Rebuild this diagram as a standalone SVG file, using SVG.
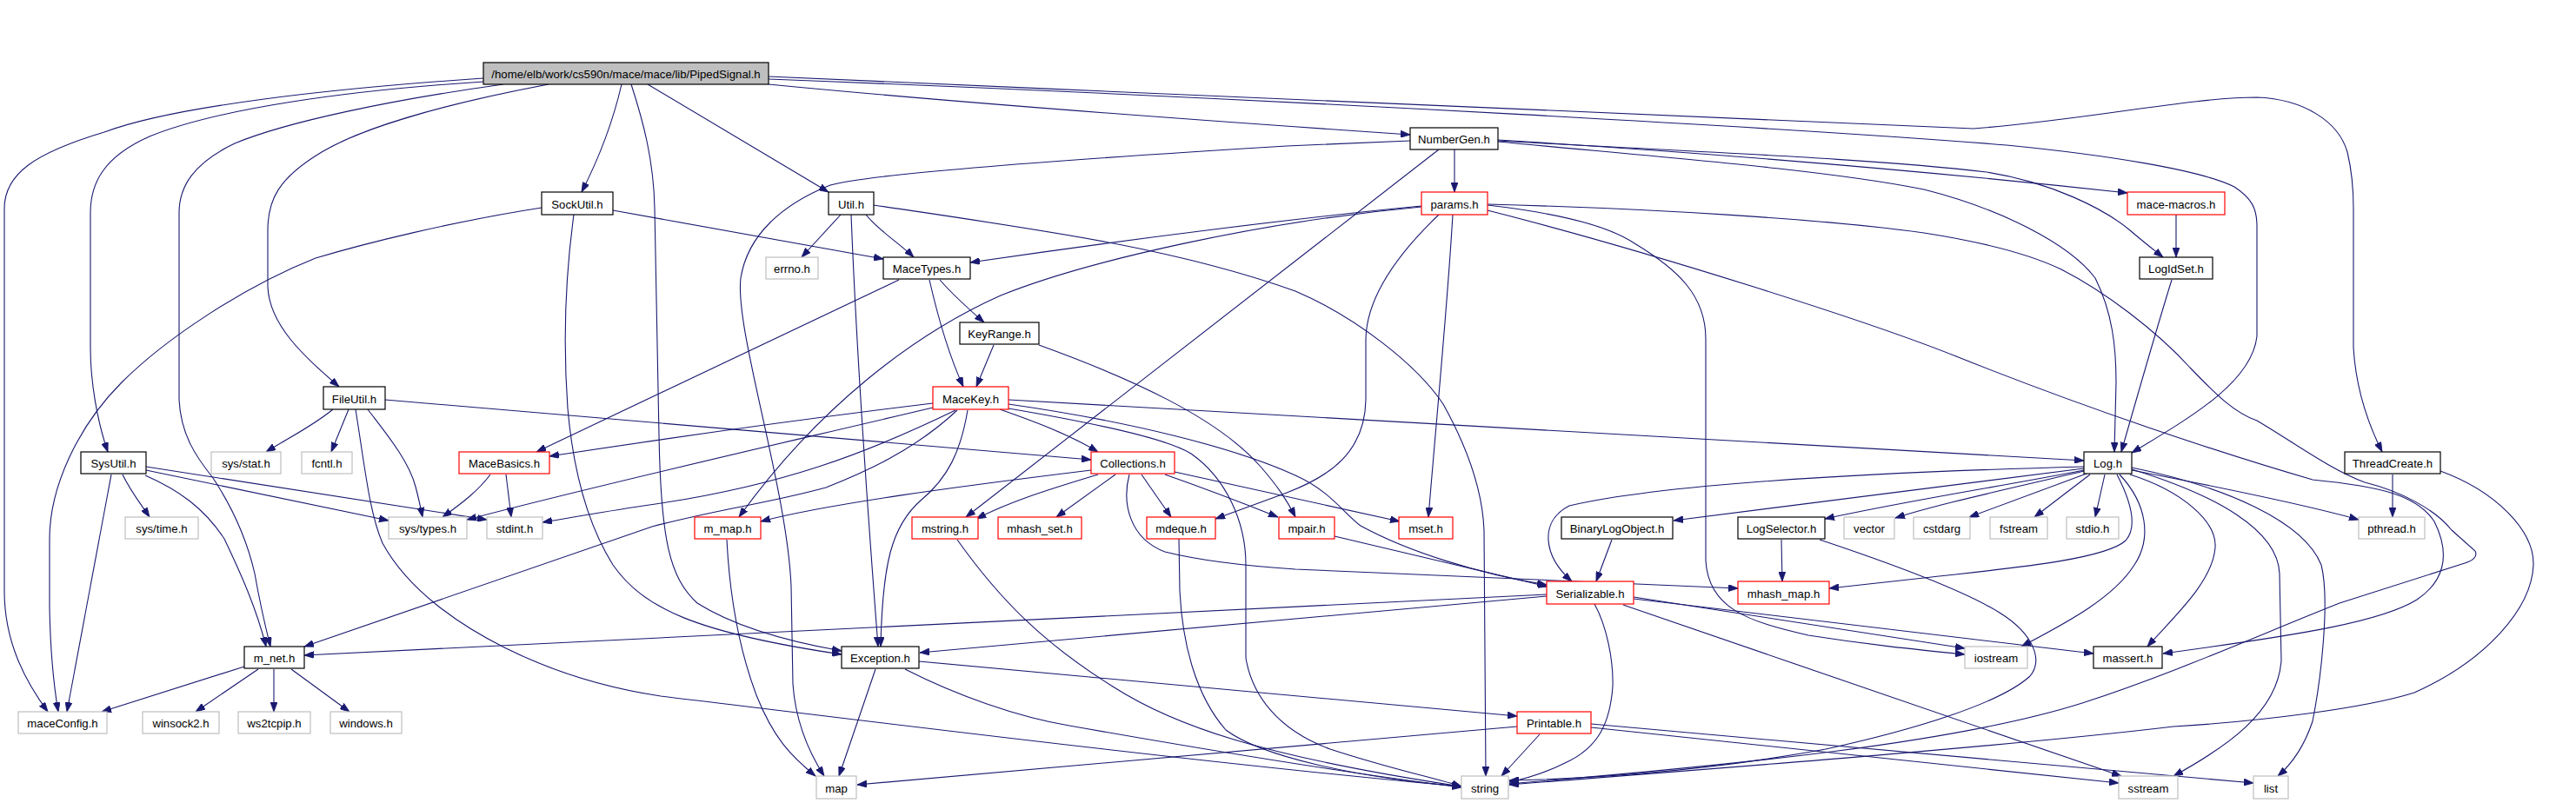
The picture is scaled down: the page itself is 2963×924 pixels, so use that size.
<svg xmlns="http://www.w3.org/2000/svg" width="2963" height="924" viewBox="0 0 2963 924">
<defs>
<marker id="a" markerWidth="11" markerHeight="8" refX="11" refY="4" orient="auto" markerUnits="userSpaceOnUse"><path d="M0,0 L11,4 L0,8 z" fill="#191970" stroke="#191970" stroke-width="0.8"/></marker>
</defs>
<style>
rect{stroke-width:1.2}
.k rect{fill:#fff;stroke:#000}
.r rect{fill:#fff;stroke:#ff0000}
.g rect{fill:#fff;stroke:#bfbfbf}
.m rect{fill:#bfbfbf;stroke:#000}
text{font-family:"Liberation Sans",Arial,sans-serif;font-size:13.2px;text-anchor:middle;fill:#000}
#edges path{fill:none;stroke:#191970;stroke-width:1.1;marker-end:url(#a)}
</style>
<rect x="0" y="0" width="2963" height="924" fill="#fff"/>
<g id="edges">
<path d="M556,90 C380,102 200,122 120,152 C40,176 5,200 5,240 L5,680 C5,740 30,785 55,819"/>
<path d="M556,94 C400,104 250,125 172,157 C120,180 104,210 104,245 L104,400 C104,440 112,485 124,520"/>
<path d="M579,97 C450,115 330,140 270,165 C222,188 206,215 206,245 L206,460 C208,500 225,525 245,550 C268,585 285,625 293,660 C300,700 305,720 311,744"/>
<path d="M631,97 C520,118 420,145 370,175 C320,205 308,230 308,265 L308,330 C310,375 350,410 390,445"/>
<path d="M715,97 C705,140 690,180 669,221"/>
<path d="M726,97 C740,140 752,185 753,240 L758,500 C760,620 770,665 802,694 C840,718 900,737 968,749"/>
<path d="M745,97 L953,221"/>
<path d="M884,97 C1100,118 1400,140 1622,155"/>
<path d="M884,88 C1400,110 2000,140 2270,148 C2400,138 2520,112 2596,112 C2650,114 2690,140 2700,175 C2706,200 2707,220 2707,240 L2707,400 C2710,450 2725,490 2740,520"/>
<path d="M884,91 C1500,115 2100,150 2308,167 C2420,178 2530,195 2570,215 C2590,228 2596,240 2596,260 L2596,387 C2590,440 2520,480 2452,521"/>
<path d="M1673,172 L1673,221"/>
<path d="M1622,162 L1480,168 C1200,185 1000,200 955,213 C900,235 860,270 852,320 C845,380 905,560 910,674 L912,787 C915,830 930,865 948,893"/>
<path d="M1655,172 L1111,595"/>
<path d="M1723,161 C1950,175 2200,195 2447,222"/>
<path d="M1723,162 C1950,175 2150,182 2285,198 C2360,210 2420,240 2450,265 C2465,278 2478,288 2488,296"/>
<path d="M1723,163 C1900,180 2100,195 2213,218 C2300,240 2380,280 2410,320 C2430,360 2434,400 2434,440 L2432,520"/>
<path d="M1635,237 C1500,250 1300,275 1116,302"/>
<path d="M1635,238 C1450,255 1250,300 1151,340 C1050,385 940,470 850,595"/>
<path d="M1655,247 C1610,290 1572,340 1571,390 L1571,460 C1570,520 1530,548 1480,567 C1450,578 1425,587 1398,597"/>
<path d="M1671,247 C1665,350 1655,450 1643,595"/>
<path d="M1711,236 C1790,245 1850,260 1880,280 C1930,310 1962,340 1962,390 L1962,645 C1965,700 2010,715 2080,731 C2150,742 2200,747 2260,753"/>
<path d="M1711,242 C1900,290 2150,370 2250,410 C2400,470 2550,520 2660,552 C2740,560 2780,570 2800,600 C2820,640 2810,670 2780,690 C2740,715 2650,730 2488,752"/>
<path d="M1711,235 C1900,240 2100,252 2213,268 C2290,280 2340,295 2371,310 C2420,335 2480,380 2519,423 C2550,455 2570,475 2596,484 C2640,510 2680,540 2720,555 C2760,565 2800,585 2820,610 L2847,634 C2850,640 2845,645 2835,648 L2691,694 C2600,730 2500,775 2395,809 C2250,855 2000,880 1736,902"/>
<path d="M967,247 L922,296"/>
<path d="M996,247 C1010,265 1035,280 1051,296"/>
<path d="M979,247 C985,400 995,550 1010,744"/>
<path d="M1005,236 C1200,265 1350,285 1490,335 C1560,365 1630,420 1660,465 C1685,510 1705,560 1707,610 L1709,893"/>
<path d="M705,242 L1016,298"/>
<path d="M623,239 C520,255 420,280 363,297 C280,330 190,390 140,440 C90,490 57,560 57,620 L57,700 C58,750 62,790 67,819"/>
<path d="M660,247 C650,320 648,400 653,470 C660,550 680,610 705,650 C740,700 800,728 968,753"/>
<path d="M1034,322 L617,520"/>
<path d="M1081,322 C1095,338 1110,352 1132,371"/>
<path d="M1069,322 C1080,370 1092,410 1108,445"/>
<path d="M1143,397 L1123,445"/>
<path d="M1195,397 C1300,435 1400,480 1450,537 C1470,560 1480,575 1490,595"/>
<path d="M383,471 C360,490 330,505 306,520"/>
<path d="M401,471 L381,520"/>
<path d="M423,471 C445,500 470,530 478,560 C482,575 484,585 486,595"/>
<path d="M443,460 L1255,529"/>
<path d="M409,471 C420,540 425,590 440,625 C470,680 530,720 580,745 C640,775 700,792 760,801 C1000,830 1400,880 1681,905"/>
<path d="M141,546 C150,565 162,580 172,595"/>
<path d="M168,541 L447,599"/>
<path d="M168,537 L560,598"/>
<path d="M167,547 C206,564 235,585 258,620 C277,660 295,700 306,744"/>
<path d="M128,546 L77,819"/>
<path d="M564,546 C550,565 530,580 509,595"/>
<path d="M582,546 L588,595"/>
<path d="M1073,464 C900,485 750,507 632,525"/>
<path d="M1073,469 C900,510 700,555 537,598"/>
<path d="M1099,472 C1000,520 900,560 740,582 C700,588 660,595 624,601"/>
<path d="M1101,472 C1050,520 990,545 950,561 C880,580 830,585 750,606 L350,744"/>
<path d="M1113,472 C1105,520 1090,550 1060,575 C1025,605 1015,650 1013,744"/>
<path d="M1150,471 C1190,485 1230,500 1263,520"/>
<path d="M1160,460 L2397,530"/>
<path d="M1160,465 C1300,485 1420,515 1490,547 C1530,565 1545,590 1565,605 C1620,635 1700,660 1779,673"/>
<path d="M1160,470 C1260,487 1343,505 1370,522 C1410,550 1433,600 1433,650 L1433,757 C1440,800 1470,840 1530,862 C1600,885 1650,895 1681,905"/>
<path d="M1255,541 C1100,560 950,580 875,600"/>
<path d="M1263,546 C1200,565 1160,578 1123,597"/>
<path d="M1283,546 L1215,595"/>
<path d="M1313,546 L1347,595"/>
<path d="M1340,546 C1380,560 1420,575 1470,595"/>
<path d="M1351,543 L1610,600"/>
<path d="M1299,546 C1290,580 1300,620 1340,635 C1380,645 1430,651 1490,655 L1999,677"/>
<path d="M836,621 C840,700 855,760 870,800 C890,850 910,870 938,893"/>
<path d="M1101,621 C1150,690 1200,740 1280,790 C1350,835 1450,870 1681,905"/>
<path d="M1356,620 L1357,680 C1360,740 1375,800 1410,840 C1450,870 1560,895 1681,905"/>
<path d="M1535,617 L1780,675"/>
<path d="M2397,537 C2100,545 1900,560 1805,582 C1770,600 1775,640 1808,669"/>
<path d="M2397,539 L1925,599"/>
<path d="M2397,541 C2300,560 2200,575 2099,597"/>
<path d="M2397,542 C2300,565 2230,580 2180,596"/>
<path d="M2400,545 L2265,595"/>
<path d="M2404,546 L2340,595"/>
<path d="M2421,546 L2410,595"/>
<path d="M2435,546 C2450,575 2460,605 2445,622 C2420,645 2300,655 2213,665 L2104,677"/>
<path d="M2438,546 C2470,580 2475,620 2455,650 C2430,690 2370,720 2325,744"/>
<path d="M2450,546 C2510,565 2550,600 2548,630 C2545,670 2500,710 2470,744"/>
<path d="M2452,540 C2550,570 2620,610 2622,660 L2624,760 C2620,820 2560,860 2500,893"/>
<path d="M2452,538 C2560,560 2650,600 2670,650 C2680,690 2670,780 2660,830 C2650,860 2635,880 2620,893"/>
<path d="M2452,541 C2550,560 2650,580 2713,598"/>
<path d="M2752,546 L2752,595"/>
<path d="M2807,542 C2870,565 2915,610 2914,650 C2912,700 2860,760 2777,797 C2720,815 2600,830 2500,836 C2300,860 1900,890 1736,903"/>
<path d="M2498,322 C2480,380 2460,450 2440,520"/>
<path d="M2503,247 L2503,296"/>
<path d="M2049,621 L2050,669"/>
<path d="M2093,621 C2180,650 2260,680 2300,705 C2340,730 2350,760 2335,778 C2300,810 2200,840 2100,862 C1950,890 1800,897 1736,898"/>
<path d="M1854,621 L1836,669"/>
<path d="M1779,684 L350,754"/>
<path d="M1779,686 L1058,751"/>
<path d="M1834,695 C1848,720 1856,760 1855,790 C1852,830 1840,860 1800,878 C1780,888 1760,895 1736,900"/>
<path d="M1879,687 L2260,746"/>
<path d="M1879,689 L2408,752"/>
<path d="M1867,696 L2440,893"/>
<path d="M1745,836 L986,903"/>
<path d="M1771,845 L1727,893"/>
<path d="M1830,833 L2592,901"/>
<path d="M1830,837 C1900,845 2100,865 2437,901"/>
<path d="M1007,770 L965,893"/>
<path d="M1057,761 L1745,824"/>
<path d="M1041,770 C1100,800 1170,825 1230,835 C1400,865 1550,890 1681,906"/>
<path d="M281,767 L117,819"/>
<path d="M297,770 L225,819"/>
<path d="M315,770 L315,819"/>
<path d="M335,770 L402,819"/>
</g>
<g id="n_main" class="m"><rect x="556" y="72" width="328" height="25"/><text x="720" y="90">/home/elb/work/cs590n/mace/mace/lib/PipedSignal.h</text></g>
<g id="n_NumberGen" class="k"><rect x="1622" y="147" width="101" height="25"/><text x="1672.5" y="165">NumberGen.h</text></g>
<g id="n_SockUtil" class="k"><rect x="623" y="221" width="82" height="26"/><text x="664" y="239.5">SockUtil.h</text></g>
<g id="n_Util" class="k"><rect x="953" y="221" width="52" height="26"/><text x="979" y="239.5">Util.h</text></g>
<g id="n_params" class="r"><rect x="1635" y="221" width="76" height="26"/><text x="1673" y="239.5">params.h</text></g>
<g id="n_macemacros" class="r"><rect x="2447" y="221" width="112" height="26"/><text x="2503" y="239.5">mace-macros.h</text></g>
<g id="n_errno" class="g"><rect x="881" y="296" width="60" height="25"/><text x="911" y="314">errno.h</text></g>
<g id="n_MaceTypes" class="k"><rect x="1016" y="296" width="100" height="25"/><text x="1066" y="314">MaceTypes.h</text></g>
<g id="n_LogIdSet" class="k"><rect x="2461" y="296" width="84" height="25"/><text x="2503" y="314">LogIdSet.h</text></g>
<g id="n_KeyRange" class="k"><rect x="1104" y="371" width="91" height="25"/><text x="1149.5" y="389">KeyRange.h</text></g>
<g id="n_FileUtil" class="k"><rect x="372" y="445" width="71" height="26"/><text x="407.5" y="463.5">FileUtil.h</text></g>
<g id="n_MaceKey" class="r"><rect x="1073" y="445" width="87" height="26"/><text x="1116.5" y="463.5">MaceKey.h</text></g>
<g id="n_SysUtil" class="k"><rect x="93" y="520" width="75" height="25"/><text x="130.5" y="538">SysUtil.h</text></g>
<g id="n_sysstat" class="g"><rect x="243" y="520" width="80" height="25"/><text x="283" y="538">sys/stat.h</text></g>
<g id="n_fcntl" class="g"><rect x="347" y="520" width="58" height="25"/><text x="376" y="538">fcntl.h</text></g>
<g id="n_MaceBasics" class="r"><rect x="528" y="520" width="104" height="25"/><text x="580" y="538">MaceBasics.h</text></g>
<g id="n_Collections" class="r"><rect x="1255" y="520" width="96" height="25"/><text x="1303" y="538">Collections.h</text></g>
<g id="n_Log" class="k"><rect x="2397" y="520" width="55" height="25"/><text x="2424.5" y="538">Log.h</text></g>
<g id="n_ThreadCreate" class="k"><rect x="2697" y="520" width="110" height="25"/><text x="2752" y="538">ThreadCreate.h</text></g>
<g id="n_systime" class="g"><rect x="144" y="595" width="84" height="25"/><text x="186" y="613">sys/time.h</text></g>
<g id="n_systypes" class="g"><rect x="447" y="595" width="90" height="25"/><text x="492" y="613">sys/types.h</text></g>
<g id="n_stdint" class="g"><rect x="560" y="595" width="64" height="25"/><text x="592" y="613">stdint.h</text></g>
<g id="n_m_map" class="r"><rect x="799" y="595" width="76" height="25"/><text x="837" y="613">m_map.h</text></g>
<g id="n_mstring" class="r"><rect x="1049" y="595" width="76" height="25"/><text x="1087" y="613">mstring.h</text></g>
<g id="n_mhash_set" class="r"><rect x="1148" y="595" width="96" height="25"/><text x="1196" y="613">mhash_set.h</text></g>
<g id="n_mdeque" class="r"><rect x="1319" y="595" width="79" height="25"/><text x="1358.5" y="613">mdeque.h</text></g>
<g id="n_mpair" class="r"><rect x="1471" y="595" width="64" height="25"/><text x="1503" y="613">mpair.h</text></g>
<g id="n_mset" class="r"><rect x="1609" y="595" width="62" height="25"/><text x="1640" y="613">mset.h</text></g>
<g id="n_BinaryLogObject" class="k"><rect x="1796" y="595" width="128" height="25"/><text x="1860" y="613">BinaryLogObject.h</text></g>
<g id="n_LogSelector" class="k"><rect x="1999" y="595" width="100" height="25"/><text x="2049" y="613">LogSelector.h</text></g>
<g id="n_vector" class="g"><rect x="2121" y="595" width="58" height="25"/><text x="2150" y="613">vector</text></g>
<g id="n_cstdarg" class="g"><rect x="2201" y="595" width="65" height="25"/><text x="2233.5" y="613">cstdarg</text></g>
<g id="n_fstream" class="g"><rect x="2289" y="595" width="66" height="25"/><text x="2322" y="613">fstream</text></g>
<g id="n_stdio" class="g"><rect x="2377" y="595" width="60" height="25"/><text x="2407" y="613">stdio.h</text></g>
<g id="n_pthread" class="g"><rect x="2713" y="595" width="76" height="25"/><text x="2751" y="613">pthread.h</text></g>
<g id="n_Serializable" class="r"><rect x="1779" y="669" width="100" height="26"/><text x="1829" y="687.5">Serializable.h</text></g>
<g id="n_mhash_map" class="r"><rect x="1999" y="669" width="105" height="26"/><text x="2051.5" y="687.5">mhash_map.h</text></g>
<g id="n_m_net" class="k"><rect x="281" y="744" width="69" height="25"/><text x="315.5" y="762">m_net.h</text></g>
<g id="n_Exception" class="k"><rect x="968" y="744" width="89" height="25"/><text x="1012.5" y="762">Exception.h</text></g>
<g id="n_iostream" class="g"><rect x="2260" y="744" width="72" height="25"/><text x="2296" y="762">iostream</text></g>
<g id="n_massert" class="k"><rect x="2408" y="744" width="79" height="25"/><text x="2447.5" y="762">massert.h</text></g>
<g id="n_maceConfig" class="g"><rect x="21" y="819" width="102" height="25"/><text x="72" y="837">maceConfig.h</text></g>
<g id="n_winsock2" class="g"><rect x="164" y="819" width="88" height="25"/><text x="208" y="837">winsock2.h</text></g>
<g id="n_ws2tcpip" class="g"><rect x="274" y="819" width="83" height="25"/><text x="315.5" y="837">ws2tcpip.h</text></g>
<g id="n_windows" class="g"><rect x="380" y="819" width="82" height="25"/><text x="421" y="837">windows.h</text></g>
<g id="n_Printable" class="r"><rect x="1745" y="819" width="85" height="25"/><text x="1787.5" y="837">Printable.h</text></g>
<g id="n_map" class="g"><rect x="939" y="893" width="46" height="26"/><text x="962" y="911.5">map</text></g>
<g id="n_string" class="g"><rect x="1681" y="893" width="54" height="26"/><text x="1708" y="911.5">string</text></g>
<g id="n_sstream" class="g"><rect x="2437" y="893" width="68" height="26"/><text x="2471" y="911.5">sstream</text></g>
<g id="n_list" class="g"><rect x="2592" y="893" width="40" height="26"/><text x="2612" y="911.5">list</text></g>
</svg>
